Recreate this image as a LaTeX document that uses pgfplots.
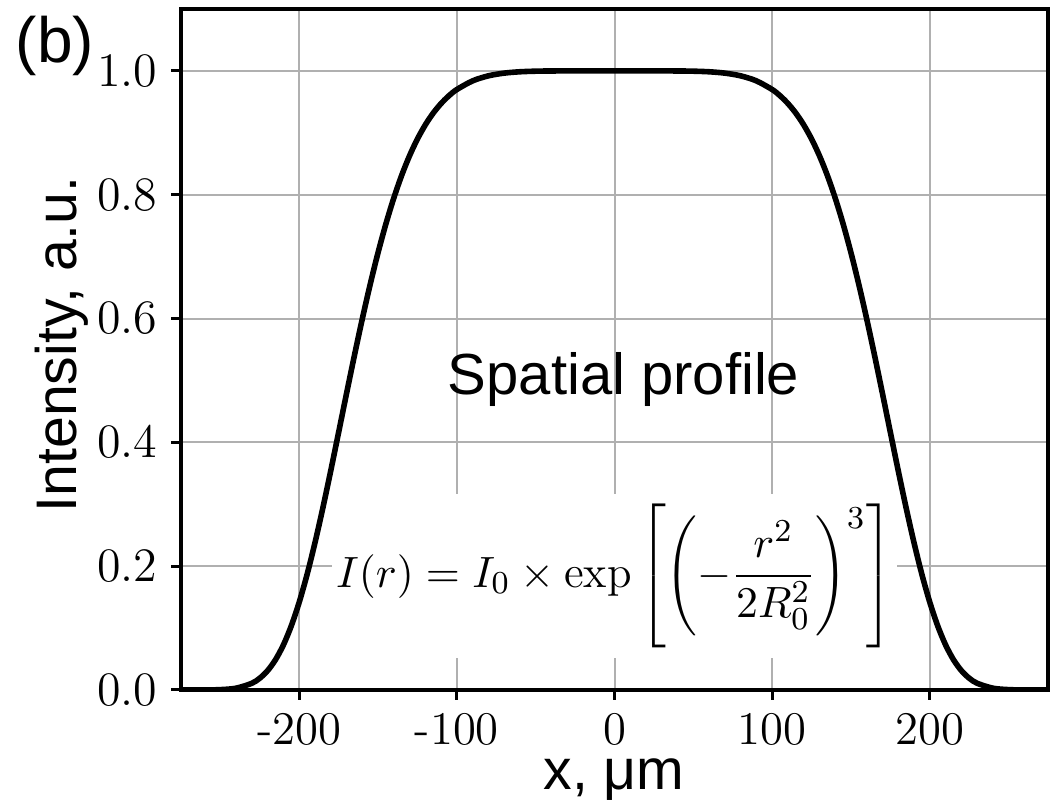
\documentclass[border=0pt]{standalone}
\usepackage{pgfplots}
\pgfplotsset{compat=1.18}
\usepackage{fontspec}
\newfontfamily\arial{Liberation Sans}
\definecolor{gridgray}{HTML}{B0B0B0}
\begin{document}
\begin{tikzpicture}
\begin{axis}[
  name=ax, at={(0,0)}, anchor=south west,
  scale only axis, width=216.75pt, height=170.25pt,
  xmin=-275, xmax=275, ymin=0, ymax=1.1,
  xtick={-200,-100,0,100,200}, xticklabels={-200,-100,0,100,200},
  ytick={0,0.2,0.4,0.6,0.8,1.0},
  yticklabel style={/pgf/number format/.cd, fixed, fixed zerofill, precision=1},
  tick align=outside, major tick length=2.4pt,
  tick pos=left,
  tick style={black, line width=0.75pt},
  grid=major, grid style={color=gridgray, line width=0.5pt},
  axis line style={line width=1pt},
  tick label style={font=\fontsize{11.7}{14}\selectfont},
]
\addplot[black, line width=1.4pt, smooth] coordinates {
(-275,0) (-260,0.00008) (-250,0.00058) (-240,0.00293) (-230,0.01091) (-225,0.01907)
(-220,0.03143) (-215,0.04909) (-210,0.07298) (-205,0.10384) (-200,0.14183) (-195,0.18676)
(-190,0.23795) (-185,0.29421) (-180,0.35418) (-175,0.41621) (-170,0.47874) (-165,0.54018)
(-160,0.59930) (-155,0.65495) (-150,0.70639) (-145,0.75304) (-140,0.79471) (-135,0.83133)
(-130,0.86303) (-125,0.89010) (-120,0.91290) (-115,0.93184) (-110,0.94737) (-105,0.95993)
(-100,0.96994) (-90,0.98391) (-80,0.99203) (-70,0.99642) (-60,0.99858) (-50,0.99952)
(-40,0.99988) (-20,1.0) (0,1.0) (20,1.0) (40,0.99988) (50,0.99952) (60,0.99858)
(70,0.99642) (80,0.99203) (90,0.98391) (100,0.96994) (105,0.95993) (110,0.94737)
(115,0.93184) (120,0.91290) (125,0.89010) (130,0.86303) (135,0.83133) (140,0.79471)
(145,0.75304) (150,0.70639) (155,0.65495) (160,0.59930) (165,0.54018) (170,0.47874)
(175,0.41621) (180,0.35418) (185,0.29421) (190,0.23795) (195,0.18676) (200,0.14183)
(205,0.10384) (210,0.07298) (215,0.04909) (220,0.03143) (225,0.01907) (230,0.01091)
(240,0.00293) (250,0.00058) (260,0.00008) (275,0)
};
\node[font=\arial\fontsize{14.5}{17}\selectfont, anchor=base, inner sep=0pt]
  at (axis cs:5.8,0.4766) {Spatial profile};
\node[fill=white, inner xsep=1pt, inner ysep=2.5pt, font=\fontsize{11.3}{14}\selectfont]
  at (axis cs:0,0.184) {$\displaystyle I(r) = I_0 \times \exp\left[\left(-\frac{r^2}{2R_0^2}\right)^3\right]$};
\end{axis}
\node[font=\arial\fontsize{14.3}{17}\selectfont, rotate=90, anchor=base, inner sep=0pt]
  at (-26pt,86.4pt) {Intensity, a.u.};
\node[font=\arial\fontsize{14.3}{17}\selectfont, anchor=base, inner sep=0pt]
  at (108.25pt,-25pt) {x, μm};
\node[font=\arial\fontsize{16}{19}\selectfont, anchor=base west, inner sep=0pt]
  at (-41.5pt,156.75pt) {(b)};
\pgfresetboundingbox
\useasboundingbox (-45.25pt,-30.25pt) rectangle (217.25pt,172.5pt);
\end{tikzpicture}
\end{document}
